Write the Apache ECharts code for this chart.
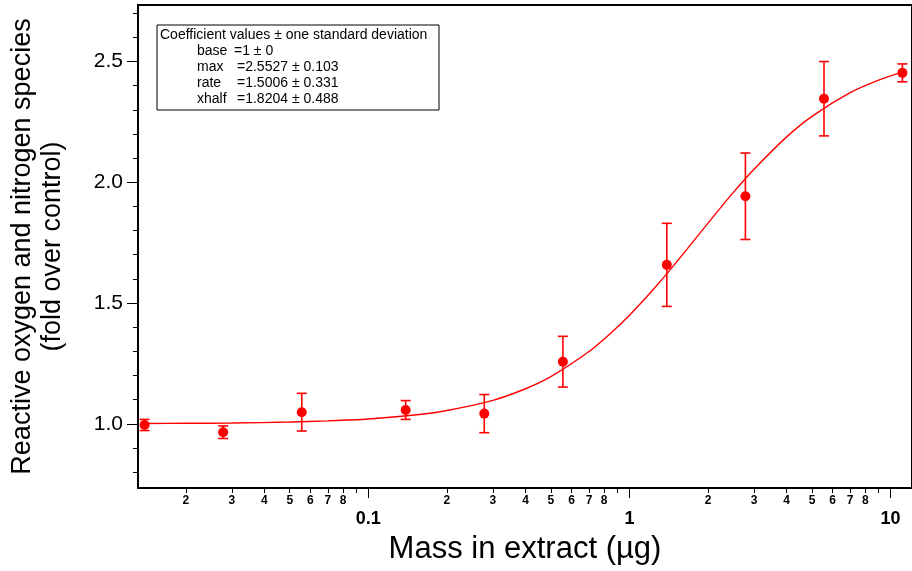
<!DOCTYPE html>
<html>
<head>
<meta charset="utf-8">
<script src="https://cdn.jsdelivr.net/npm/echarts@6/dist/echarts.min.js"></script>
<style>
html,body{margin:0;padding:0;background:#fff;}
#chart{width:912px;height:571px;}
</style>
</head>
<body>
<div id="chart"></div>
<script>
// ---- data ----
const massUg = [0.0139, 0.0278, 0.0556, 0.139, 0.278, 0.556, 1.39, 2.78, 5.56, 11.1];
const rosMean = [0.995, 0.965, 1.048, 1.057, 1.042, 1.257, 1.658, 1.942, 2.346, 2.453];
const rosSD = [0.023, 0.026, 0.078, 0.039, 0.079, 0.105, 0.172, 0.179, 0.154, 0.037];

const fitX = [0.0139, 0.02, 0.03, 0.05, 0.07, 0.1, 0.15, 0.2, 0.3, 0.4, 0.5, 0.7, 0.85, 1.0, 1.25, 1.5, 2, 2.5, 3, 4, 5, 7, 9, 11.1];
const fitY = [1.001, 1.002, 1.003, 1.007, 1.012, 1.020, 1.036, 1.055, 1.097, 1.145, 1.195, 1.299, 1.376, 1.449, 1.563, 1.664, 1.831, 1.958, 2.054, 2.188, 2.273, 2.371, 2.423, 2.456];

const xMinorTicks = [0.02,0.03,0.04,0.05,0.06,0.07,0.08,0.09, 0.2,0.3,0.4,0.5,0.6,0.7,0.8,0.9, 2,3,4,5,6,7,8,9];
const xMinorLabelVals = [0.02,0.03,0.04,0.05,0.06,0.07,0.08, 0.2,0.3,0.4,0.5,0.6,0.7,0.8, 2,3,4,5,6,7,8];
const xMinorLabels = ['2','3','4','5','6','7','8', '2','3','4','5','6','7','8', '2','3','4','5','6','7','8'];
const xMajorTicks = [0.1, 1, 10];
const xMajorLabels = ['0.1', '1', '10'];

const yMajorTicks = [1.0, 1.5, 2.0, 2.5];
const yMajorLabels = ['1.0', '1.5', '2.0', '2.5'];
const yMinorTicks = [0.8, 0.9, 1.1, 1.2, 1.3, 1.4, 1.6, 1.7, 1.8, 1.9, 2.1, 2.2, 2.3, 2.4, 2.6, 2.7];

const xRange = [0.01312, 12.08];
const yRange = [0.734, 2.734];

const boxLines = [
  ['Coefficient values \u00b1 one standard deviation', ''],
  ['base', '=1 \u00b1 0'],
  ['max', '=2.5527 \u00b1 0.103'],
  ['rate', '=1.5006 \u00b1 0.331'],
  ['xhalf', '=1.8204 \u00b1 0.488']
];

// ---- chart ----
const FONT = "'Liberation Sans', Arial, sans-serif";
const RED = '#ff0000';
const lg = v => Math.log10(v);
function labelFor(v, vals, labels) {
  let best = 0, bd = Infinity;
  vals.forEach((t, i) => { const d = Math.abs(lg(t) - v); if (d < bd) { bd = d; best = i; } });
  return labels[best];
}

const chart = echarts.init(document.getElementById('chart'), null, {renderer: 'canvas'});

const grid = {left: 137, top: 5, width: 778, height: 483, show: true, borderColor: '#000', borderWidth: 2, backgroundColor: 'transparent'};

const option = {
  animation: false,
  backgroundColor: '#fff',
  grid: grid,
  xAxis: [
    {
      type: 'log', logBase: 10, min: xRange[0], max: xRange[1], position: 'bottom',
      axisLine: {show: true, onZero: false, lineStyle: {color: '#000', width: 2}},
      axisTick: {show: false}, axisLabel: {show: false}, splitLine: {show: false}, minorTick: {show: false},
      name: 'Mass in extract (\u00b5g)', nameLocation: 'middle', nameGap: 46,
      nameTextStyle: {fontFamily: FONT, fontSize: 31, color: '#000'}
    },
    {
      type: 'value', min: lg(xRange[0]), max: lg(xRange[1]), position: 'bottom',
      axisLine: {show: false, onZero: false},
      axisTick: {show: true, inside: false, length: 5, customValues: xMinorTicks.map(lg), lineStyle: {color: '#000', width: 1}},
      axisLabel: {show: true, customValues: xMinorLabelVals.map(lg), margin: 7, fontFamily: FONT, fontSize: 12, fontWeight: 'bold', color: '#000',
        formatter: v => labelFor(v, xMinorLabelVals, xMinorLabels)},
      splitLine: {show: false}
    },
    {
      type: 'value', min: lg(xRange[0]), max: lg(xRange[1]), position: 'bottom',
      axisLine: {show: false, onZero: false},
      axisTick: {show: true, inside: false, length: 10, customValues: xMajorTicks.map(lg), lineStyle: {color: '#000', width: 1}},
      axisLabel: {show: true, customValues: xMajorTicks.map(lg), margin: 22, fontFamily: FONT, fontSize: 18, fontWeight: 'bold', color: '#000',
        formatter: v => labelFor(v, xMajorTicks, xMajorLabels)},
      splitLine: {show: false}
    }
  ],
  yAxis: [
    {
      type: 'value', min: yRange[0], max: yRange[1], position: 'left',
      axisLine: {show: true, onZero: false, lineStyle: {color: '#000', width: 2}},
      axisTick: {show: true, inside: false, length: 11, customValues: yMajorTicks, lineStyle: {color: '#000', width: 1}},
      axisLabel: {show: true, customValues: yMajorTicks, margin: 15, fontFamily: FONT, fontSize: 21, color: '#000',
        formatter: v => yMajorLabels[yMajorTicks.findIndex(t => Math.abs(t - v) < 1e-6)] || ''},
      splitLine: {show: false},
      name: 'Reactive oxygen and nitrogen species\n(fold over control)', nameLocation: 'middle', nameGap: 70,
      nameTextStyle: {fontFamily: FONT, fontSize: 27, lineHeight: 30, color: '#000', align: 'center'}
    },
    {
      type: 'value', min: yRange[0], max: yRange[1], position: 'left',
      axisLine: {show: false, onZero: false},
      axisTick: {show: true, inside: false, length: 5, customValues: yMinorTicks, lineStyle: {color: '#000', width: 1}},
      axisLabel: {show: false},
      splitLine: {show: false}
    }
  ],
  series: [
    {
      type: 'line', xAxisIndex: 0, yAxisIndex: 0, smooth: 0.3, showSymbol: false, symbol: 'none',
      data: fitX.map((x, i) => [x, fitY[i]]),
      lineStyle: {color: RED, width: 1.4}, z: 2
    },
    {
      type: 'custom', xAxisIndex: 0, yAxisIndex: 0, z: 3,
      data: massUg.map((x, i) => [x, rosMean[i] - rosSD[i], rosMean[i] + rosSD[i]]),
      renderItem: function (params, api) {
        const lo = api.coord([api.value(0), api.value(1)]);
        const hi = api.coord([api.value(0), api.value(2)]);
        const w = 5;
        const st = {stroke: RED, lineWidth: 1.6, fill: null};
        return {
          type: 'group',
          children: [
            {type: 'line', shape: {x1: lo[0], y1: lo[1], x2: hi[0], y2: hi[1]}, style: st},
            {type: 'line', shape: {x1: lo[0] - w, y1: lo[1], x2: lo[0] + w, y2: lo[1]}, style: st},
            {type: 'line', shape: {x1: hi[0] - w, y1: hi[1], x2: hi[0] + w, y2: hi[1]}, style: st}
          ]
        };
      }
    },
    {
      type: 'scatter', xAxisIndex: 0, yAxisIndex: 0, z: 4,
      symbol: 'circle', symbolSize: 10,
      data: massUg.map((x, i) => [x, rosMean[i]]),
      itemStyle: {color: RED, opacity: 1}
    }
  ],
  graphic: [
    {type: 'rect', z: 10, shape: {x: 157, y: 25, width: 282, height: 85}, style: {fill: '#fff', stroke: '#000', lineWidth: 1}},
    ...boxLines.map((ln, i) => ({
      type: 'text', z: 11, x: i === 0 ? 160 : 197, y: 35 + i * 16,
      style: {text: ln[0], fontFamily: FONT, fontSize: 14, fill: '#000', verticalAlign: 'middle'}
    })),
    ...boxLines.slice(1).map((ln, i) => ({
      type: 'text', z: 11, x: i === 0 ? 234 : 237, y: 35 + (i + 1) * 16,
      style: {text: ln[1], fontFamily: FONT, fontSize: 14, fill: '#000', verticalAlign: 'middle'}
    }))
  ]
};
chart.setOption(option);
</script>
</body>
</html>
